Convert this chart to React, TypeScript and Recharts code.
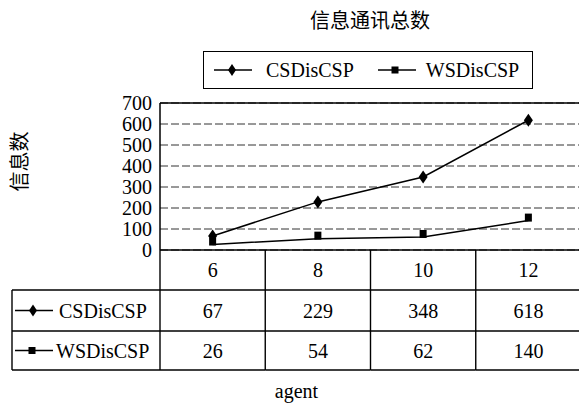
import { CartesianGrid, Label, Legend, Line, LineChart, ReferenceLine, XAxis, YAxis } from "recharts"

// chart data
const agents = ["6", "8", "10", "12"]
const csDisCsp = [67, 229, 348, 618]
const wsDisCsp = [26, 54, 62, 140]
const seriesNames = ["CSDisCSP", "WSDisCSP"]
const yTicks = [0, 100, 200, 300, 400, 500, 600, 700]

const chartTitle = "信息通讯总数"
const yTitle = "信息数"
const xTitle = "agent"

const data = agents.map((agent, i) => ({ agent, cs: csDisCsp[i], ws: wsDisCsp[i] }))

const SERIF = "Liberation Serif, Times New Roman, DejaVu Serif, serif"
const CJK = "Noto Sans CJK SC, sans-serif"
const CHART_W = 581
const CHART_H = 404
const PLOT_LEFT = 160
const BAND = (CHART_W - PLOT_LEFT) / agents.length
const TABLE_LEFT = 12
const ROW_H = [40, 41, 39]

const Diamond = ({ cx, cy, w = 9, h = 13 }: any) => {
  if (cx == null || cy == null) return null
  return <path d={`M${cx},${cy - h / 2} L${cx + w / 2},${cy} L${cx},${cy + h / 2} L${cx - w / 2},${cy} Z`} fill="#000" />
}

const Square = ({ cx, cy, lift = 3, w = 7, h = 8 }: any) => {
  if (cx == null || cy == null) return null
  return <rect x={cx - w / 2} y={cy - lift - h / 2} width={w} height={h} fill="#000" />
}

function KeyIcon({ x, y, kind }: { x: number; y: number; kind: number }) {
  return (
    <g>
      <line x1={x} x2={x + 38} y1={y} y2={y} stroke="#000" strokeWidth={1.5} />
      {kind === 0 ? <Diamond cx={x + 18} cy={y} w={8} h={12} /> : <Square cx={x + 17} cy={y} lift={0} w={7} h={7} />}
    </g>
  )
}

// the data table under the plot is drawn as the x axis ticks
function TableTick(props: any) {
  const { x, y, index } = props
  const i = index ?? props.payload?.index ?? 0
  const left = x - BAND / 2
  const right = x + BAND / 2
  const r0 = y
  const r1 = r0 + ROW_H[0]
  const r2 = r1 + ROW_H[1]
  const r3 = r2 + ROW_H[2]
  const line = { stroke: "#000", strokeWidth: 1.4 }
  const txt = { fontFamily: SERIF, fontSize: 20, fill: "#000", textAnchor: "middle" as const }
  return (
    <g>
      {i === 0 && (
        <g>
          <line x1={left} x2={left} y1={r0} y2={r3} {...line} />
          <line x1={TABLE_LEFT} x2={left} y1={r1} y2={r1} {...line} />
          <line x1={TABLE_LEFT} x2={left} y1={r2} y2={r2} {...line} />
          <line x1={TABLE_LEFT} x2={left} y1={r3} y2={r3} {...line} />
          <line x1={TABLE_LEFT} x2={TABLE_LEFT} y1={r1} y2={r3} {...line} />
          <KeyIcon x={15} y={(r1 + r2) / 2} kind={0} />
          <text x={59} y={(r1 + r2) / 2 + 7} {...txt} textAnchor="start">{seriesNames[0]}</text>
          <KeyIcon x={15} y={(r2 + r3) / 2} kind={1} />
          <text x={56} y={(r2 + r3) / 2 + 7} {...txt} textAnchor="start">{seriesNames[1]}</text>
        </g>
      )}
      <line x1={right} x2={right} y1={r0} y2={r3} {...line} />
      <line x1={left} x2={right} y1={r1} y2={r1} {...line} />
      <line x1={left} x2={right} y1={r2} y2={r2} {...line} />
      <line x1={left} x2={right} y1={r3} y2={r3} {...line} />
      <text x={x} y={(r0 + r1) / 2 + 7} {...txt}>{agents[i]}</text>
      <text x={x} y={(r1 + r2) / 2 + 7} {...txt}>{csDisCsp[i]}</text>
      <text x={x} y={(r2 + r3) / 2 + 7} {...txt}>{wsDisCsp[i]}</text>
    </g>
  )
}

function LegendBox() {
  return (
    <div
      style={{
        boxSizing: "border-box",
        width: 330,
        height: 38,
        border: "1.5px solid #000",
        display: "flex",
        alignItems: "center",
        fontFamily: SERIF,
        fontSize: 20,
        color: "#000",
        background: "#fff",
        whiteSpace: "nowrap",
      }}
    >
      <svg width={40} height={16} style={{ marginLeft: 9 }}>
        <KeyIcon x={1} y={8} kind={0} />
      </svg>
      <span style={{ marginLeft: 13 }}>{seriesNames[0]}</span>
      <svg width={40} height={16} style={{ marginLeft: 23 }}>
        <KeyIcon x={1} y={8} kind={1} />
      </svg>
      <span style={{ marginLeft: 9 }}>{seriesNames[1]}</span>
    </div>
  )
}

export default function App() {
  return (
    <div
      style={{
        position: "absolute",
        left: 0,
        top: 0,
        width: 579,
        height: 404,
        overflow: "hidden",
        background: "#fff",
        fontFamily: SERIF,
      }}
    >
      <div
        style={{
          position: "absolute",
          top: 10,
          left: 270,
          width: 200,
          textAlign: "center",
          fontFamily: CJK,
          fontSize: 20,
          lineHeight: "20px",
          color: "#000",
        }}
      >
        {chartTitle}
      </div>
      <LineChart width={CHART_W} height={CHART_H} data={data} margin={{ top: 103, right: 0, bottom: 34, left: 0 }}>
        <CartesianGrid vertical={false} stroke="#333" strokeDasharray="8 3" />
        <XAxis
          dataKey="agent"
          padding={{ left: BAND / 2, right: BAND / 2 }}
          interval={0}
          tickSize={0}
          tickMargin={0}
          tickLine={false}
          axisLine={{ stroke: "#000", strokeWidth: 1.5 }}
          height={120}
          tick={(p: any) => <TableTick key={`t-${p.index}`} {...p} />}
        >
          <Label
            content={({ viewBox }: any) => (
              <text
                x={(TABLE_LEFT + viewBox.x + viewBox.width) / 2}
                y={viewBox.y + 148}
                textAnchor="middle"
                fontFamily={SERIF}
                fontSize={20}
                fill="#000"
              >
                {xTitle}
              </text>
            )}
          />
        </XAxis>
        <YAxis
          domain={[0, 700]}
          ticks={yTicks}
          interval={0}
          width={PLOT_LEFT}
          tickSize={0}
          tickMargin={8}
          tickLine={false}
          axisLine={{ stroke: "#000", strokeWidth: 1.5 }}
          tick={{ fill: "#000", fontSize: 20, fontFamily: SERIF }}
        >
          <Label
            content={({ viewBox }: any) => (
              <text
                x={18}
                y={viewBox.y + viewBox.height / 2 - 15}
                transform={`rotate(-90 18 ${viewBox.y + viewBox.height / 2 - 15})`}
                textAnchor="middle"
                dominantBaseline="central"
                fontFamily={CJK}
                fontSize={20}
                fill="#000"
              >
                {yTitle}
              </text>
            )}
          />
        </YAxis>
        <ReferenceLine y={700} stroke="#000" strokeWidth={1.5} />
        <Legend
          layout="horizontal"
          verticalAlign="middle"
          align="center"
          width={330}
          height={38}
          wrapperStyle={{ top: 51, left: 203 }}
          content={() => <LegendBox />}
        />
        <Line
          dataKey="cs"
          name={seriesNames[0]}
          stroke="#000"
          strokeWidth={1.5}
          dot={(p: any) => <Diamond key={`cs-${p.index}`} cx={p.cx} cy={p.cy} />}
          activeDot={false}
          isAnimationActive={false}
        />
        <Line
          dataKey="ws"
          name={seriesNames[1]}
          stroke="#000"
          strokeWidth={1.5}
          dot={(p: any) => <Square key={`ws-${p.index}`} cx={p.cx} cy={p.cy} />}
          activeDot={false}
          isAnimationActive={false}
        />
      </LineChart>
    </div>
  )
}
